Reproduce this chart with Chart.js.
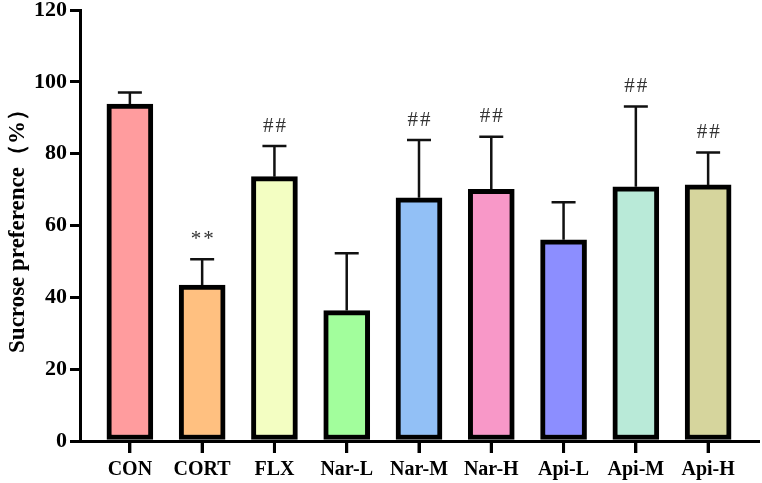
<!DOCTYPE html>
<html>
<head>
<meta charset="utf-8">
<script src="https://cdn.jsdelivr.net/npm/chart.js@4"></script>
<style>
  html, body { margin: 0; padding: 0; background: #fff; }
  #wrap { width: 762px; height: 483px; }
</style>
</head>
<body>
<div id="wrap"><canvas id="chart" width="762" height="483"></canvas></div>
<script>
// Data
const groups = ['CON', 'CORT', 'FLX', 'Nar-L', 'Nar-M', 'Nar-H', 'Api-L', 'Api-M', 'Api-H'];
const means = [93.8, 43.4, 73.6, 36.3, 67.7, 70.1, 56.0, 70.8, 71.3];
const errors = [3.2, 7.2, 8.5, 16.0, 16.1, 14.6, 10.5, 22.3, 9.0];
const marks = ['', '**', '##', '', '##', '##', '', '##', '##'];
const barColors = ['#FF9C9E', '#FFC080', '#F3FEC2', '#A2FE9C', '#92C0F6', '#F898C8', '#8C8EFF', '#B9EAD8', '#D6D59D'];
const yTicks = [0, 20, 40, 60, 80, 100, 120];

const serif = '"Liberation Serif", "Times New Roman", serif';

// error bars, significance marks and the x tick marks
const errorBarPlugin = {
    id: 'errorBars',
    afterDatasetsDraw(chart) {
        const ctx = chart.ctx;
        const yScale = chart.scales.y;
        const xScale = chart.scales.x;
        const meta = chart.getDatasetMeta(0);
        ctx.save();
        ctx.strokeStyle = '#111';
        ctx.lineWidth = 2.5;
        meta.data.forEach((bar, i) => {
            const x = bar.x;
            const yBase = yScale.getPixelForValue(means[i]);
            const yTop = yScale.getPixelForValue(means[i] + errors[i]);
            ctx.beginPath();
            ctx.moveTo(x, yBase);
            ctx.lineTo(x, yTop);
            ctx.moveTo(x - 12, yTop);
            ctx.lineTo(x + 12, yTop);
            ctx.stroke();
            if (marks[i]) {
                ctx.fillStyle = '#333';
                ctx.font = '21px ' + serif;
                ctx.letterSpacing = '2px';
                ctx.textAlign = 'center';
                ctx.textBaseline = 'middle';
                ctx.fillText(marks[i], x + 1, yTop - 20);
            }
        });
        // tick marks under the x axis
        ctx.strokeStyle = '#000';
        ctx.lineWidth = 3;
        const axisY = xScale.top;
        groups.forEach((g, i) => {
            const x = xScale.getPixelForValue(i);
            ctx.beginPath();
            ctx.moveTo(x, axisY);
            ctx.lineTo(x, axisY + 12);
            ctx.stroke();
        });
        ctx.restore();
    }
};

const ctx = document.getElementById('chart').getContext('2d');
new Chart(ctx, {
    type: 'bar',
    data: {
        datasets: [{
            data: groups.map((g, i) => ({ x: i, y: means[i] })),
            backgroundColor: barColors,
            borderColor: '#000',
            borderWidth: 5,
            borderSkipped: false,
            barThickness: 46
        }]
    },
    options: {
        responsive: false,
        animation: false,
        layout: { padding: { top: 10, right: 4, left: 0, bottom: 0 } },
        plugins: {
            legend: { display: false },
            tooltip: { enabled: false }
        },
        scales: {
            x: {
                type: 'linear',
                offset: false,
                min: -0.69,
                max: 8.69,
                afterBuildTicks: scale => {
                    scale.ticks = groups.map((g, i) => ({ value: i }));
                },
                afterFit: scale => {
                    scale.height = 42;
                    scale.paddingLeft = 0;
                    scale.paddingRight = 0;
                },
                grid: { offset: false, drawOnChartArea: false, drawTicks: true, tickLength: 12, lineWidth: 3, color: '#000' },
                border: { display: true, width: 3, color: '#000' },
                ticks: {
                    autoSkip: false,
                    maxRotation: 0,
                    padding: 5,
                    color: '#000',
                    font: { family: serif, size: 20, weight: 'bold' },
                    callback: v => groups[v]
                }
            },
            y: {
                min: 0,
                max: 120,
                afterBuildTicks: scale => {
                    scale.ticks = yTicks.map(v => ({ value: v }));
                },
                afterFit: scale => {
                    scale.width = 80;
                    scale.paddingTop = 0;
                    scale.paddingBottom = 0;
                },
                grid: { drawOnChartArea: false, drawTicks: true, tickLength: 10, lineWidth: 3, color: '#000' },
                border: { display: true, width: 3, color: '#000' },
                ticks: {
                    padding: 3,
                    color: '#000',
                    font: { family: serif, size: 22, weight: 'bold' }
                },
                title: {
                    display: true,
                    text: 'Sucrose preference（%）',
                    color: '#000',
                    padding: { top: 4, bottom: 0 },
                    font: { family: serif, size: 23, weight: 'bold' }
                }
            }
        }
    },
    plugins: [errorBarPlugin]
});
</script>
</body>
</html>
